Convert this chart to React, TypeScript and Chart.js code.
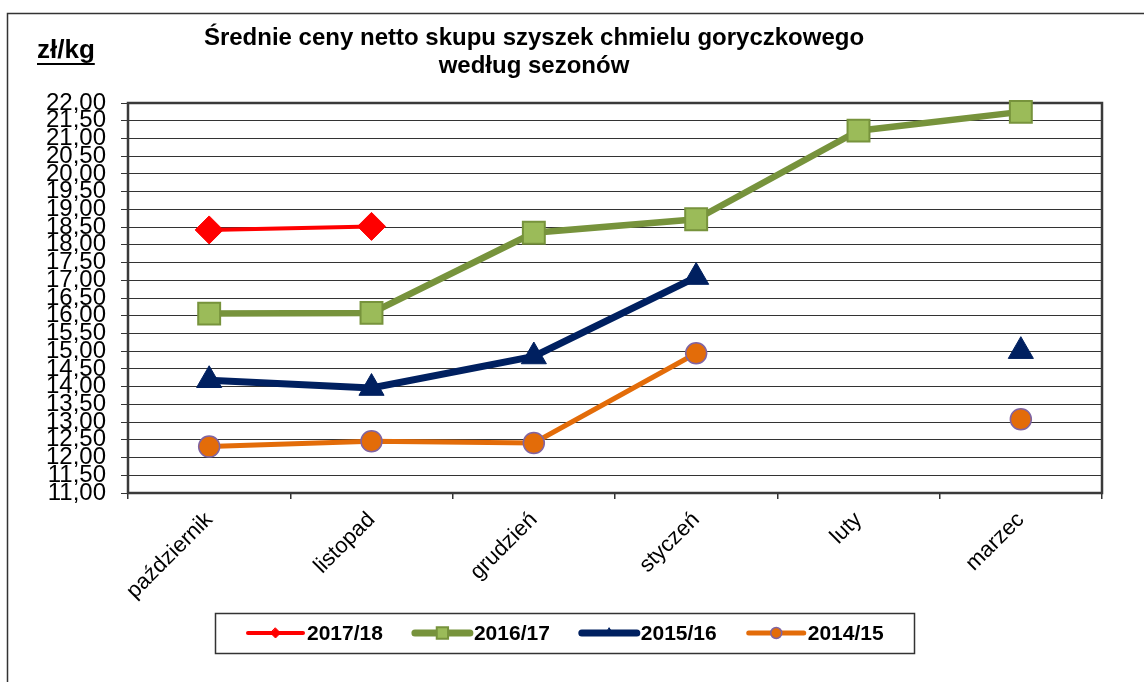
import React, { useEffect, useRef } from 'react';
import { Chart, registerables } from 'chart.js';

Chart.register(...registerables);

const months = ['październik', 'listopad', 'grudzień', 'styczeń', 'luty', 'marzec'];
const season1718 = [18.42, 18.52, null, null, null, null];
const season1617 = [16.06, 16.08, 18.34, 18.72, 21.22, 21.75];
const season1516 = [14.18, 13.96, 14.85, 17.09, null, 15.0];
const season1415 = [12.31, 12.46, 12.41, 14.94, null, 13.08];
const seriesNames = ['2017/18', '2016/17', '2015/16', '2014/15'];
const yMin = 11;
const yMax = 22;
const yStep = 0.5;
const titleLines = ['Średnie ceny netto skupu szyszek chmielu goryczkowego', 'według sezonów'];
const unitLabel = 'zł/kg';

const FONT = '"Liberation Sans", Arial, sans-serif';

type Style = {
  line: string;
  lineWidth: number;
  legendLineWidth: number;
  point: string;
  radius: number;
  legendRadius: number;
  fill: string;
  stroke: string;
  strokeWidth: number;
};

const styles: Style[] = [
  { line: '#FF0000', lineWidth: 4, legendLineWidth: 4, point: 'rectRot', radius: 14, legendRadius: 5, fill: '#FF0000', stroke: '#FF0000', strokeWidth: 1 },
  { line: '#77933C', lineWidth: 6.5, legendLineWidth: 7, point: 'rect', radius: 15.5, legendRadius: 8, fill: '#9BBB59', stroke: '#77933C', strokeWidth: 2 },
  { line: '#002060', lineWidth: 7, legendLineWidth: 7, point: 'triangle', radius: 14.5, legendRadius: 5, fill: '#002060', stroke: '#002060', strokeWidth: 1 },
  { line: '#E36C09', lineWidth: 5, legendLineWidth: 5, point: 'circle', radius: 10.5, legendRadius: 5.5, fill: '#E36C09', stroke: '#8064A2', strokeWidth: 1.5 },
];

function drawMarker(ctx: CanvasRenderingContext2D, s: Style, x: number, y: number, r: number) {
  ctx.save();
  ctx.beginPath();
  if (s.point === 'rectRot') {
    ctx.moveTo(x, y - r);
    ctx.lineTo(x + r, y);
    ctx.lineTo(x, y + r);
    ctx.lineTo(x - r, y);
    ctx.closePath();
  } else if (s.point === 'rect') {
    const h = r * Math.SQRT1_2;
    ctx.rect(x - h, y - h, 2 * h, 2 * h);
  } else if (s.point === 'triangle') {
    for (let i = 0; i < 3; i++) {
      const a = (i * 2 * Math.PI) / 3;
      const px = x + Math.sin(a) * r;
      const py = y - Math.cos(a) * r;
      if (i === 0) ctx.moveTo(px, py);
      else ctx.lineTo(px, py);
    }
    ctx.closePath();
  } else {
    ctx.arc(x, y, r, 0, Math.PI * 2);
  }
  ctx.fillStyle = s.fill;
  ctx.fill();
  ctx.lineWidth = s.strokeWidth;
  ctx.strokeStyle = s.stroke;
  ctx.stroke();
  ctx.restore();
}

const framePlugin = {
  id: 'frame',
  beforeDraw(chart: any) {
    const ctx: CanvasRenderingContext2D = chart.ctx;
    ctx.save();
    ctx.fillStyle = '#FFFFFF';
    ctx.fillRect(0, 0, chart.width, chart.height);
    // outer chart border
    ctx.strokeStyle = '#333333';
    ctx.lineWidth = 1.5;
    ctx.beginPath();
    ctx.moveTo(7.5, chart.height);
    ctx.lineTo(7.5, 13.5);
    ctx.lineTo(chart.width, 13.5);
    ctx.stroke();
    // title
    ctx.fillStyle = '#000000';
    ctx.textAlign = 'center';
    ctx.textBaseline = 'middle';
    ctx.font = `bold 24px ${FONT}`;
    ctx.fillText(titleLines[0], 534, 38);
    ctx.fillText(titleLines[1], 534, 66);
    // unit label
    ctx.textAlign = 'left';
    ctx.textBaseline = 'alphabetic';
    ctx.font = `bold 26px ${FONT}`;
    ctx.fillText(unitLabel, 37, 58);
    const w = ctx.measureText(unitLabel).width;
    ctx.lineWidth = 2;
    ctx.strokeStyle = '#000000';
    ctx.beginPath();
    ctx.moveTo(37, 64);
    ctx.lineTo(37 + w, 64);
    ctx.stroke();
    ctx.restore();
  },
  beforeDatasetsDraw(chart: any) {
    const ctx: CanvasRenderingContext2D = chart.ctx;
    const a = chart.chartArea;
    ctx.save();
    ctx.strokeStyle = '#3A3A3A';
    ctx.lineWidth = 2.5;
    ctx.strokeRect(a.left, a.top, a.right - a.left, a.bottom - a.top);
    ctx.restore();
  },
  afterDraw(chart: any) {
    const ctx: CanvasRenderingContext2D = chart.ctx;
    ctx.save();
    // legend box
    ctx.strokeStyle = '#333333';
    ctx.lineWidth = 1.5;
    ctx.strokeRect(215.5, 613.5, 699, 40);
    const cy = 633;
    let x = 248;
    ctx.font = `bold 21px ${FONT}`;
    ctx.textBaseline = 'middle';
    ctx.textAlign = 'left';
    seriesNames.forEach((name, i) => {
      const s = styles[i];
      const len = 55;
      ctx.strokeStyle = s.line;
      ctx.lineWidth = s.legendLineWidth;
      ctx.lineCap = 'round';
      ctx.beginPath();
      ctx.moveTo(x, cy);
      ctx.lineTo(x + len, cy);
      ctx.stroke();
      drawMarker(ctx, s, x + len / 2, cy, s.legendRadius);
      ctx.fillStyle = '#000000';
      ctx.fillText(name, x + len + 4, cy + 1);
      const tw = ctx.measureText(name).width;
      x = x + len + 4 + tw + 32;
    });
    ctx.restore();
  },
};

export default function App() {
  const ref = useRef<HTMLCanvasElement | null>(null);

  useEffect(() => {
    if (!ref.current) return;
    const allSeries = [season1718, season1617, season1516, season1415];
    const yTicks: number[] = [];
    for (let v = yMin; v <= yMax + 1e-9; v += yStep) yTicks.push(Math.round(v * 100) / 100);

    const chart = new Chart(ref.current, {
      type: 'line',
      data: {
        labels: months,
        datasets: allSeries.map((data, i) => {
          const s = styles[i];
          return {
            label: seriesNames[i],
            data,
            borderColor: s.line,
            borderWidth: s.lineWidth,
            backgroundColor: s.fill,
            pointStyle: s.point as any,
            pointRadius: s.radius,
            pointBackgroundColor: s.fill,
            pointBorderColor: s.stroke,
            pointBorderWidth: s.strokeWidth,
            tension: 0,
            spanGaps: false,
            clip: false as any,
            fill: false,
            order: i,
          };
        }),
      },
      options: {
        animation: false,
        responsive: false,
        devicePixelRatio: 1,
        events: [],
        layout: { padding: { top: 103, right: 42, left: 0, bottom: 0 } },
        plugins: {
          legend: { display: false },
          title: { display: false },
          tooltip: { enabled: false },
        },
        scales: {
          x: {
            type: 'category',
            offset: true,
            afterFit(scale: any) {
              scale.height = 189;
            },
            grid: {
              offset: true,
              drawOnChartArea: false,
              drawTicks: true,
              tickLength: 6,
              color: '#333333',
              lineWidth: 1.5,
            },
            border: { display: false },
            ticks: {
              autoSkip: false,
              minRotation: 45,
              maxRotation: 45,
              padding: 8,
              color: '#000000',
              font: { family: FONT, size: 22 },
            },
          },
          y: {
            type: 'linear',
            min: yMin,
            max: yMax,
            afterFit(scale: any) {
              scale.width = 128;
            },
            afterBuildTicks(scale: any) {
              scale.ticks = yTicks.map((v) => ({ value: v }));
            },
            grid: {
              color: '#333333',
              lineWidth: 1,
              tickLength: 7,
              drawTicks: true,
            },
            border: { display: false },
            ticks: {
              autoSkip: false,
              padding: 15,
              color: '#000000',
              font: { family: FONT, size: 24 },
              callback: (v: any) => Number(v).toFixed(2).replace('.', ','),
            },
          },
        },
      },
      plugins: [framePlugin],
    });
    return () => chart.destroy();
  }, []);

  return (
    <div style={{ position: 'fixed', left: 0, top: 0, width: 1144, height: 682, background: '#fff' }}>
      <canvas ref={ref} width={1144} height={682} style={{ display: 'block', width: 1144, height: 682 }} />
    </div>
  );
}
